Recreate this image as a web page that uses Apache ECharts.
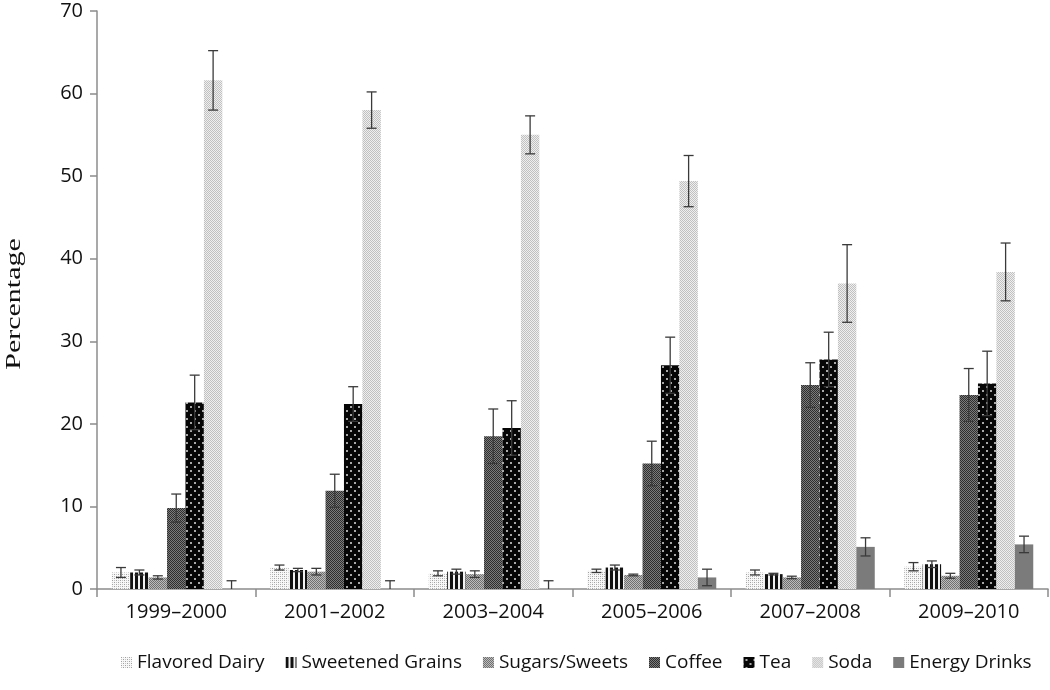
<!DOCTYPE html>
<html>
<head>
<meta charset="utf-8">
<script src="https://cdn.jsdelivr.net/npm/echarts@6/dist/echarts.min.js"></script>
<style>
  html, body { margin: 0; padding: 0; background: #fff; }
  #chart { width: 1050px; height: 690px; }
</style>
</head>
<body>
<div id="chart"></div>
<script>
var categories = ["1999–2000", "2001–2002", "2003–2004", "2005–2006", "2007–2008", "2009–2010"];
var seriesNames = ["Flavored Dairy", "Sweetened Grains", "Sugars/Sweets", "Coffee", "Tea", "Soda", "Energy Drinks"];

// means
var flavoredDairy = [2.0, 2.6, 1.9, 2.2, 2.0, 2.7];
var sweetenedGrains = [2.0, 2.3, 2.1, 2.6, 1.8, 3.0];
var sugarsSweets = [1.4, 2.1, 1.8, 1.7, 1.4, 1.6];
var coffee = [9.8, 11.9, 18.5, 15.2, 24.7, 23.5];
var tea = [22.6, 22.4, 19.5, 27.1, 27.8, 24.9];
var soda = [61.6, 58.0, 55.0, 49.4, 37.0, 38.4];
var energyDrinks = [0, 0, 0, 1.4, 5.1, 5.4];

// error bar half widths
var flavoredDairyErr = [0.6, 0.3, 0.3, 0.2, 0.3, 0.5];
var sweetenedGrainsErr = [0.3, 0.2, 0.3, 0.3, 0.1, 0.4];
var sugarsSweetsErr = [0.2, 0.4, 0.4, 0.1, 0.15, 0.3];
var coffeeErr = [1.7, 2.0, 3.3, 2.7, 2.7, 3.2];
var teaErr = [3.3, 2.1, 3.3, 3.4, 3.3, 3.9];
var sodaErr = [3.6, 2.2, 2.3, 3.1, 4.7, 3.5];
var energyDrinksErr = [1.0, 1.0, 1.0, 1.0, 1.1, 1.0];

var yTicks = [0, 10, 20, 30, 40, 50, 60, 70];

var allValues = [flavoredDairy, sweetenedGrains, sugarsSweets, coffee, tea, soda, energyDrinks];
var allErrs = [flavoredDairyErr, sweetenedGrainsErr, sugarsSweetsErr, coffeeErr, teaErr, sodaErr, energyDrinksErr];

// little canvas tiles for the black & white fills
function pattern(w, h, bg, draw) {
  var c = document.createElement("canvas");
  c.width = w; c.height = h;
  var g = c.getContext("2d");
  g.fillStyle = bg;
  g.fillRect(0, 0, w, h);
  draw(g);
  return { image: c, repeat: "repeat" };
}

var fills = [
  pattern(4, 4, "#f8f8f8", function (g) {
    g.fillStyle = "#a0a0a0";
    g.fillRect(0, 0, 1, 1); g.fillRect(2, 2, 1, 1);
    g.fillStyle = "#c4c4c4";
    g.fillRect(2, 0, 1, 1); g.fillRect(0, 2, 1, 1);
  }),
  pattern(5, 1, "#f2f2f2", function (g) {
    g.fillStyle = "#111";
    g.fillRect(0, 0, 3, 1);
  }),
  pattern(2, 2, "#bcbcbc", function (g) {
    g.fillStyle = "#707070";
    g.fillRect(0, 0, 1, 1); g.fillRect(1, 1, 1, 1);
  }),
  pattern(2, 2, "#7c7c7c", function (g) {
    g.fillStyle = "#2e2e2e";
    g.fillRect(0, 0, 1, 1); g.fillRect(1, 1, 1, 1);
  }),
  pattern(8, 8, "#060606", function (g) {
    g.fillStyle = "#a8a8a8";
    g.fillRect(2, 2, 2, 2); g.fillRect(6, 6, 2, 2);
  }),
  pattern(2, 2, "#efefef", function (g) {
    g.fillStyle = "#c0c0c0";
    g.fillRect(0, 0, 1, 1); g.fillRect(1, 1, 1, 1);
  }),
  "#7b7b7b"
];

var catGapPct = 18.6;

var series = [];
seriesNames.forEach(function (name, i) {
  series.push({
    name: name,
    type: "bar",
    data: allValues[i],
    barGap: "0%",
    barCategoryGap: catGapPct + "%",
    itemStyle: { color: fills[i] },
    emphasis: { disabled: true }
  });
});

seriesNames.forEach(function (name, i) {
  var errData = allValues[i].map(function (v, k) {
    return [k, Math.max(0, v - allErrs[i][k]), v + allErrs[i][k]];
  });
  series.push({
    name: name + " err",
    type: "custom",
    z: 5,
    data: errData,
    renderItem: function (params, api) {
      var band = api.size([1, 0])[0];
      var inner = band * (1 - catGapPct / 100);
      var barW = inner / seriesNames.length;
      var cx = api.coord([api.value(0), 0])[0] - inner / 2 + barW * (i + 0.5);
      var lo = api.coord([api.value(0), api.value(1)])[1];
      var hi = api.coord([api.value(0), api.value(2)])[1];
      var cap = 5;
      var st = { stroke: "#3a3a3a", lineWidth: 1.3 };
      var kids = [
        { type: "line", shape: { x1: cx, y1: lo, x2: cx, y2: hi }, style: st },
        { type: "line", shape: { x1: cx - cap, y1: hi, x2: cx + cap, y2: hi }, style: st }
      ];
      if (allValues[i][params.dataIndex] - allErrs[i][params.dataIndex] > 0) {
        kids.push({ type: "line", shape: { x1: cx - cap, y1: lo, x2: cx + cap, y2: lo }, style: st });
      }
      return { type: "group", children: kids };
    }
  });
});

var chart = echarts.init(document.getElementById("chart"), null, { renderer: "canvas" });
chart.setOption({
  animation: false,
  grid: { left: 97, right: 2, top: 11, bottom: 101 },
  graphic: [{
    type: "text",
    x: 15,
    y: 304,
    rotation: Math.PI / 2,
    scaleX: 1.5,
    style: {
      text: "Percentage",
      font: "20px 'Liberation Serif'",
      fill: "#111",
      align: "center",
      verticalAlign: "middle"
    }
  }],
  legend: {
    data: seriesNames,
    bottom: 13,
    left: 116,
    icon: "rect",
    itemWidth: 11,
    itemHeight: 11,
    itemGap: 21,
    textStyle: { fontFamily: "Open Sans", fontSize: 19, color: "#111" }
  },
  xAxis: {
    type: "category",
    data: categories,
    axisLine: { lineStyle: { color: "#8c8c8c", width: 1.5 } },
    axisTick: { show: true, length: 8, lineStyle: { color: "#8c8c8c", width: 1.5 } },
    axisLabel: { fontFamily: "Open Sans", fontSize: 20, color: "#111", margin: 13 }
  },
  yAxis: {
    type: "value",
    min: yTicks[0],
    max: yTicks[yTicks.length - 1],
    interval: 10,
    axisLine: { show: true, lineStyle: { color: "#8c8c8c", width: 1.5 } },
    axisTick: { show: true, length: 7, lineStyle: { color: "#8c8c8c", width: 1.5 } },
    axisLabel: { fontFamily: "Open Sans", fontSize: 20, color: "#111", margin: 14 },
    splitLine: { show: false }
  },
  series: series
});
</script>
</body>
</html>
